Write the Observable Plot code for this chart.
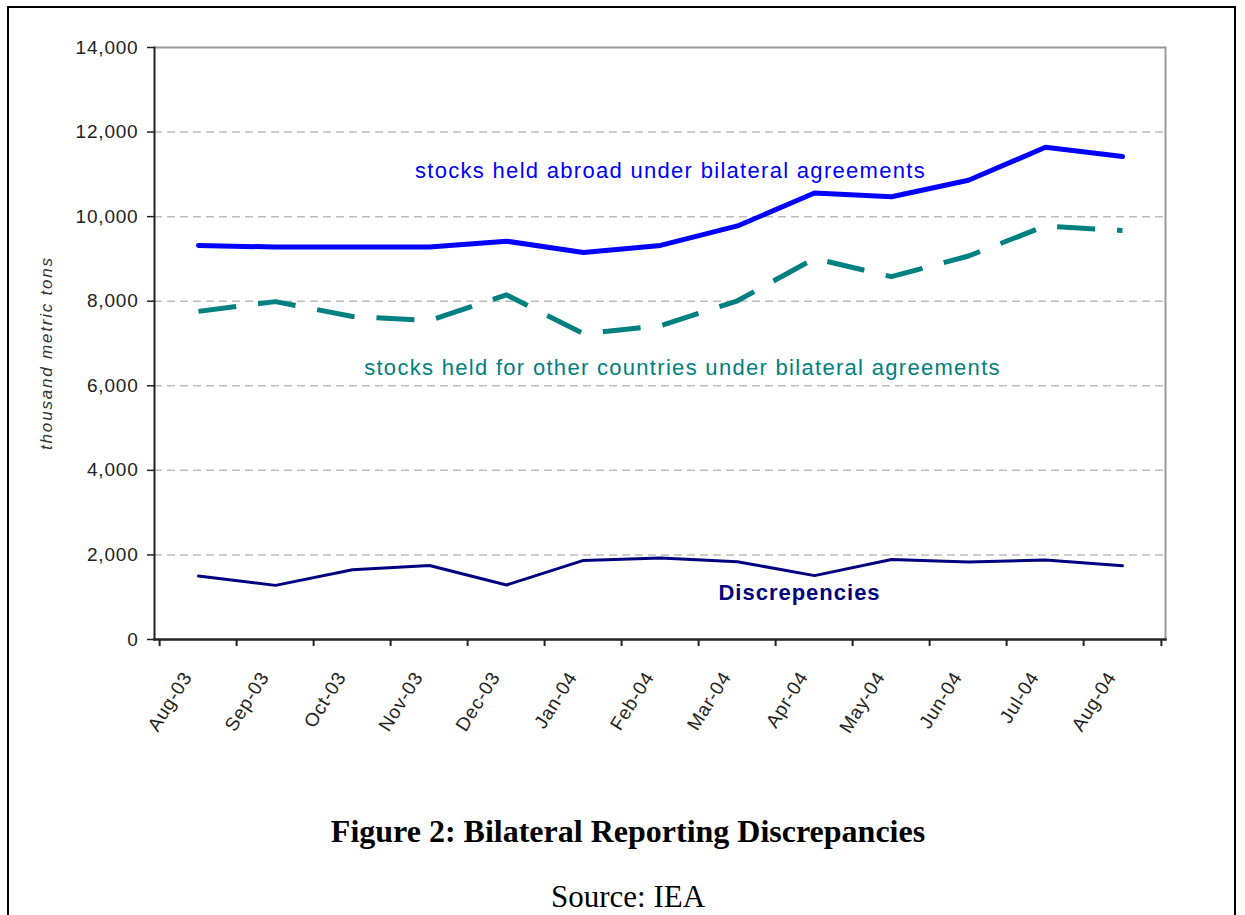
<!DOCTYPE html>
<html>
<head>
<meta charset="utf-8">
<script src="https://cdn.jsdelivr.net/npm/d3@7"></script>
<script src="https://cdn.jsdelivr.net/npm/@observablehq/plot@0.6"></script>
<style>
  html, body { margin: 0; padding: 0; background: #fff; }
  #page { position: relative; width: 1245px; height: 915px; overflow: hidden; background: #fff; }
  #border { position: absolute; left: 7px; top: 6px; width: 1229px; height: 960px; border: 2px solid #000; box-sizing: border-box; }
  #chart { position: absolute; left: 0; top: 0; }
  #title { position: absolute; left: 0; width: 1256px; top: 813px; text-align: center; font-family: "Liberation Serif", "Times New Roman", serif; font-weight: bold; font-size: 32px; line-height: 36px; color: #000; }
  #source { position: absolute; left: 0; width: 1256px; top: 880px; text-align: center; font-family: "Liberation Serif", "Times New Roman", serif; font-size: 31px; line-height: 33px; color: #000; }
</style>
</head>
<body>
<div id="page">
  <div id="border"></div>
  <div id="chart"></div>
  <div id="title">Figure 2: Bilateral Reporting Discrepancies</div>
  <div id="source">Source: IEA</div>
</div>
<script>
const months = ["Aug-03","Sep-03","Oct-03","Nov-03","Dec-03","Jan-04","Feb-04","Mar-04","Apr-04","May-04","Jun-04","Jul-04","Aug-04"];
const heldAbroad = [9320, 9280, 9280, 9280, 9420, 9150, 9320, 9780, 10560, 10470, 10860, 11640, 11420];
const heldForOthers = [7760, 7990, 7640, 7540, 8150, 7230, 7420, 8010, 9010, 8580, 9070, 9780, 9670];
const discrepancies = [1500, 1280, 1650, 1750, 1290, 1870, 1930, 1840, 1510, 1890, 1830, 1880, 1745];
const yTicks = [0, 2000, 4000, 6000, 8000, 10000, 12000, 14000];
const gridTicks = [2000, 4000, 6000, 8000, 10000, 12000];
const abroadLabel = [{text: "stocks held abroad under bilateral agreements", month: "Feb-04", value: 11070}];
const othersLabel = [{text: "stocks held for other countries under bilateral agreements", month: "Feb-04", value: 6410}];
const discLabel = [{text: "Discrepencies", month: "Apr-04", value: 1110}];

const toRows = (vals) => months.map((m, i) => ({month: m, value: vals[i]}));

const W = 1245, H = 760;
const mL = 154, mR = 80, mT = 47, mB = H - 639;
const step = (W - mL - mR) / months.length;

const chart = Plot.plot({
  width: W,
  height: H,
  marginLeft: mL,
  marginRight: mR,
  marginTop: mT,
  marginBottom: mB,
  style: {fontFamily: "'Liberation Sans', Arial, sans-serif", background: "transparent", overflow: "visible"},
  x: {type: "point", domain: months, padding: 0.5, label: null},
  y: {domain: [0, 14000], label: null},
  marks: [
    Plot.gridY(gridTicks, {stroke: "#bdbdbd", strokeOpacity: 1, strokeWidth: 1.5, strokeDasharray: "8,5"}),
    Plot.ruleY([14000], {stroke: "#999", strokeWidth: 2}),
    Plot.frame({anchor: "right", stroke: "#999", strokeWidth: 2}),
    Plot.line(toRows(discrepancies), {x: "month", y: "value", stroke: "#000080", strokeWidth: 3}),
    Plot.line(toRows(heldForOthers), {x: "month", y: "value", stroke: "#008080", strokeWidth: 5, strokeDasharray: "38,22", strokeLinecap: "butt", strokeLinejoin: "round"}),
    Plot.line(toRows(heldAbroad), {x: "month", y: "value", stroke: "#0000ff", strokeWidth: 5, strokeLinejoin: "round"}),
    Plot.text(abroadLabel, {x: "month", y: "value", text: "text", fill: "#0000ff", dx: 10, fontSize: 22, textAnchor: "middle", className: "series-label"}),
    Plot.text(othersLabel, {x: "month", y: "value", text: "text", fill: "#008080", dx: 22, fontSize: 22, textAnchor: "middle", className: "series-label"}),
    Plot.text(discLabel, {x: "month", y: "value", text: "text", fill: "#000080", dx: -15, fontSize: 22, fontWeight: "bold", textAnchor: "middle", className: "disc-label"}),
    Plot.axisY(yTicks, {tickFormat: d3.format(","), tickSize: 7, tickPadding: 9, fontSize: 19, fill: "#222", stroke: "#222", strokeWidth: 1.5, label: null}),
    Plot.ruleX(months, {x: d => d, y1: 0, y2: 0, insetBottom: -7, dx: -step / 2, stroke: "#222", strokeWidth: 2}),
    Plot.ruleX(months.slice(-1), {x: d => d, y1: 0, y2: 0, insetBottom: -7, dx: step / 2, stroke: "#222", strokeWidth: 2}),
    Plot.axisX({tickSize: 0, tickPadding: 34, dx: -11, tickRotate: -58, fontSize: 19, fill: "#222", label: null}),
    Plot.frame({anchor: "left", stroke: "#222", strokeWidth: 2}),
    Plot.frame({anchor: "bottom", stroke: "#222", strokeWidth: 2.5})
  ]
});
document.getElementById("chart").appendChild(chart);

const svg = d3.select(chart);
svg.selectAll(".series-label, .series-label text").style("letter-spacing", "1.3px");
svg.selectAll(".disc-label, .disc-label text").style("letter-spacing", "1px");
svg.selectAll("g[aria-label='y-axis tick label'] text").style("letter-spacing", "0.8px");
svg.selectAll("g[aria-label='x-axis tick label'] text").style("letter-spacing", "0.8px");

// y-axis title
svg.append("text")
  .attr("transform", `translate(52, ${(mT + 639) / 2 + 10}) rotate(-90)`)
  .attr("text-anchor", "middle")
  .attr("font-family", "'Liberation Sans', Arial, sans-serif")
  .attr("font-style", "italic")
  .attr("font-size", 17)
  .attr("fill", "#333")
  .style("letter-spacing", "1.8px")
  .text("thousand metric tons");
</script>
</body>
</html>
